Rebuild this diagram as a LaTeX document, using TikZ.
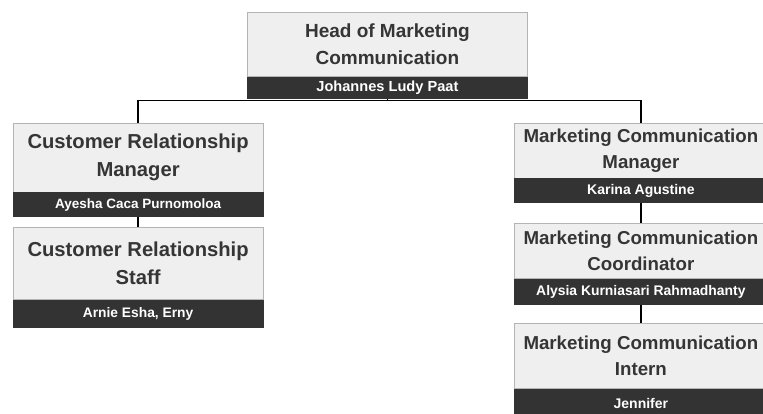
\documentclass[tikz,border=0pt]{standalone}
\usepackage{fontspec}
\setmainfont{Liberation Sans}
\definecolor{boxfill}{HTML}{EFEFEF}
\definecolor{boxline}{HTML}{B4B4B4}
\definecolor{barfill}{HTML}{333333}
\definecolor{titletext}{HTML}{353535}
\begin{document}
\begin{tikzpicture}[x=1pt,y=-1pt,
  role/.style={draw=boxline, line width=0.8pt, fill=boxfill, text=titletext,
    align=center, inner sep=0pt, anchor=north west},
  who/.style={draw=barfill, line width=0.8pt, fill=barfill, text=white,
    inner sep=0pt, anchor=north},
  link/.style={draw=black, line width=1.8pt}]
\path[use as bounding box, clip] (0,0) rectangle (763,414);

% Head of the department
\node[role, minimum width=280pt, minimum height=64pt,
  font=\bfseries\fontsize{19}{27}\selectfont] (head) at (247,12)
  {Head of Marketing\\Communication};
\node[who, minimum width=280pt, minimum height=21pt,
  font=\bfseries\fontsize{14.6}{17}\selectfont] (headN) at (head.south)
  {Johannes Ludy Paat};

% Customer relationship branch
\node[role, minimum width=250pt, minimum height=69pt,
  font=\bfseries\fontsize{20.2}{28}\selectfont] (crm) at (12.7,122.7)
  {Customer Relationship\\Manager};
\node[who, minimum width=250pt, minimum height=24pt,
  font=\bfseries\fontsize{13.5}{16}\selectfont] (crmN) at (crm.south)
  {Ayesha Caca Purnomoloa};

\node[role, minimum width=250pt, minimum height=72pt,
  font=\bfseries\fontsize{20.2}{28}\selectfont] (crs) at (12.7,227)
  {Customer Relationship\\Staff};
\node[who, minimum width=250pt, minimum height=27pt,
  font=\bfseries\fontsize{13.8}{16}\selectfont] (crsN) at (crs.south)
  {Arnie Esha, Erny};

% Marketing communication branch
\node[role, minimum width=253pt, minimum height=55pt,
  font=\bfseries\fontsize{18.7}{26.5}\selectfont] (mcm) at (514,122.7)
  {Marketing Communication\\Manager};
\node[who, minimum width=253pt, minimum height=24pt,
  font=\bfseries\fontsize{14}{16}\selectfont] (mcmN) at (mcm.south)
  {Karina Agustine};

\node[role, minimum width=253pt, minimum height=55pt,
  font=\bfseries\fontsize{18.7}{26.5}\selectfont] (mcc) at (514,223)
  {Marketing Communication\\Coordinator};
\node[who, minimum width=253pt, minimum height=25pt,
  font=\bfseries\fontsize{13.9}{16}\selectfont] (mccN) at (mcc.south)
  {Alysia Kurniasari Rahmadhanty};

\node[role, minimum width=253pt, minimum height=65pt,
  font=\bfseries\fontsize{18.7}{26.5}\selectfont] (mci) at (514,322.7)
  {Marketing Communication\\Intern};
\node[who, minimum width=253pt, minimum height=30pt,
  font=\bfseries\fontsize{14}{16}\selectfont] (mciN) at (mci.south)
  {Jennifer};

% Reporting lines
\draw[link] (headN.south) -- ++(0,2) coordinate (bus) -| (crm.north);
\draw[link] (bus) -| (mcm.north);
\draw[link] (crmN.south) -- (crs.north);
\draw[link] (mcmN.south) -- (mcc.north);
\draw[link] (mccN.south) -- (mci.north);
\end{tikzpicture}
\end{document}
